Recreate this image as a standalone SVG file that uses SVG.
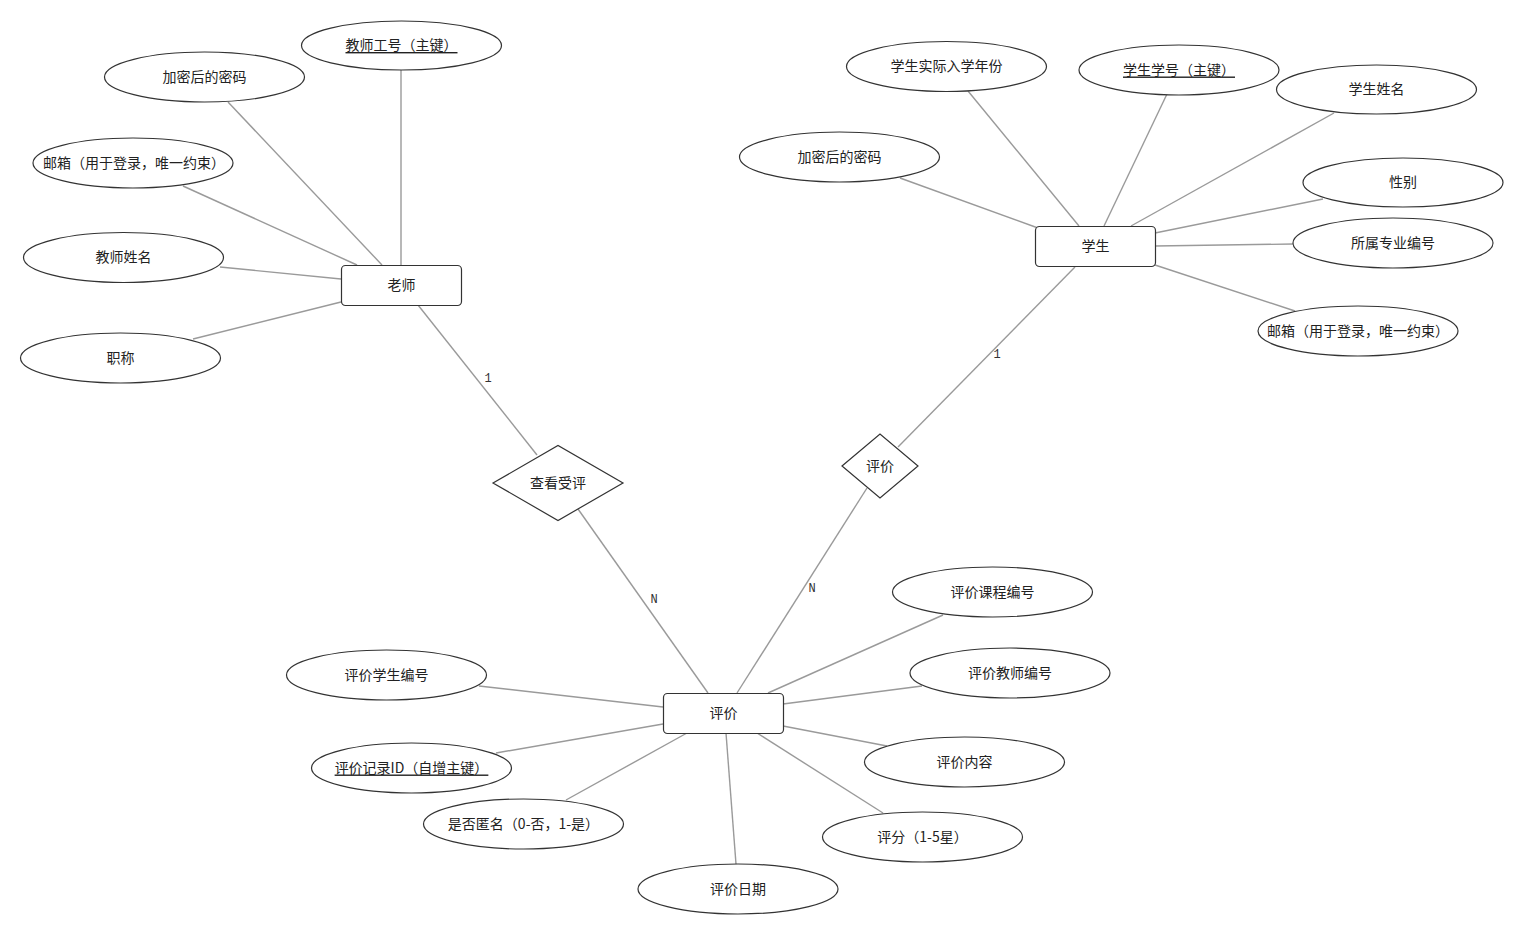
<svg xmlns="http://www.w3.org/2000/svg" width="1523" height="935" viewBox="0 0 1523 935">
<style>
.bg{fill:#ffffff}
.attr ellipse{fill:#ffffff;stroke:#333333;stroke-width:1.2}
.ent rect{fill:#ffffff;stroke:#333333;stroke-width:1.2}
.rel polygon{fill:#ffffff;stroke:#333333;stroke-width:1.2}
text{font-family:"Noto Sans CJK SC","Liberation Sans",sans-serif;font-size:14px;fill:#222222;text-anchor:middle;dominant-baseline:central;transform:translateY(-1.5px)}
text.key{text-decoration:underline}
.conn line{stroke:#9a9a9a;stroke-width:1.4}
text.card{font-family:"Liberation Mono","DejaVu Sans Mono",monospace;font-size:12px;fill:#333333}
</style>
<rect class="bg" x="0" y="0" width="1523" height="935"/>
<g id="connectors" class="conn">
  <line x1="401" y1="70" x2="401" y2="265"/>
  <line x1="228" y1="102" x2="382" y2="265"/>
  <line x1="183" y1="186" x2="357" y2="265"/>
  <line x1="220" y1="267" x2="341" y2="279"/>
  <line x1="193" y1="339" x2="341" y2="302"/>
  <line x1="418" y1="305" x2="537" y2="455"/>
  <line x1="578" y1="509" x2="708" y2="693"/>
  <line x1="968" y1="91" x2="1079" y2="226"/>
  <line x1="900" y1="178" x2="1038" y2="228"/>
  <line x1="1167" y1="94" x2="1104" y2="226"/>
  <line x1="1334" y1="113" x2="1131" y2="226"/>
  <line x1="1323" y1="199" x2="1155" y2="233"/>
  <line x1="1155" y1="246" x2="1293" y2="244"/>
  <line x1="1155" y1="265" x2="1295" y2="311"/>
  <line x1="1075" y1="267" x2="898" y2="447"/>
  <line x1="867" y1="488" x2="737" y2="693"/>
  <line x1="479" y1="686" x2="663" y2="707"/>
  <line x1="496" y1="753" x2="663" y2="724"/>
  <line x1="566" y1="800" x2="687" y2="733"/>
  <line x1="943" y1="615" x2="768" y2="693"/>
  <line x1="922" y1="686" x2="783" y2="704"/>
  <line x1="783" y1="726" x2="887" y2="746"/>
  <line x1="757" y1="733" x2="883" y2="813"/>
  <line x1="726" y1="733" x2="736" y2="864"/>
  <text class="card" x="488" y="380">1</text>
  <text class="card" x="997" y="356">1</text>
  <text class="card" x="654" y="601">N</text>
  <text class="card" x="812" y="590">N</text>
</g>
<g id="teacher" class="ent"><rect x="341.5" y="265.5" width="120" height="40" rx="4"/><text x="401.5" y="285.5">老师</text></g>
<g id="t_id" class="attr"><ellipse cx="401.5" cy="45.5" rx="100" ry="24.5"/><text class="key" x="401.5" y="45.5">教师工号（主键）</text></g>
<g id="t_pwd" class="attr"><ellipse cx="204.5" cy="77" rx="100" ry="25"/><text x="204.5" y="77">加密后的密码</text></g>
<g id="t_mail" class="attr"><ellipse cx="133" cy="163" rx="100" ry="25"/><text x="134" y="163">邮箱（用于登录，唯一约束）</text></g>
<g id="t_name" class="attr"><ellipse cx="123.5" cy="257.5" rx="100" ry="25"/><text x="123.5" y="257.5">教师姓名</text></g>
<g id="t_title" class="attr"><ellipse cx="120.5" cy="358" rx="100" ry="25"/><text x="120.5" y="358">职称</text></g>
<g id="rel_view" class="rel"><polygon points="493,483 558,445.5 623,483 558,520.5"/><text x="558" y="483">查看受评</text></g>
<g id="rel_eval" class="rel"><polygon points="842,466 880,434 918,466 880,498"/><text x="880" y="466">评价</text></g>
<g id="student" class="ent"><rect x="1035.5" y="226.5" width="120" height="40" rx="4"/><text x="1095.5" y="246.5">学生</text></g>
<g id="s_year" class="attr"><ellipse cx="946.5" cy="66.5" rx="100" ry="25"/><text x="946.5" y="66.5">学生实际入学年份</text></g>
<g id="s_pwd" class="attr"><ellipse cx="839.5" cy="157" rx="100" ry="25"/><text x="839.5" y="157">加密后的密码</text></g>
<g id="s_id" class="attr"><ellipse cx="1179" cy="70" rx="100" ry="25"/><text class="key" x="1179" y="70">学生学号（主键）</text></g>
<g id="s_name" class="attr"><ellipse cx="1376.5" cy="89.5" rx="100" ry="24.5"/><text x="1376.5" y="89.5">学生姓名</text></g>
<g id="s_gender" class="attr"><ellipse cx="1403" cy="182.5" rx="100" ry="24.5"/><text x="1403" y="182.5">性别</text></g>
<g id="s_major" class="attr"><ellipse cx="1393" cy="243" rx="100" ry="25"/><text x="1393" y="243">所属专业编号</text></g>
<g id="s_mail" class="attr"><ellipse cx="1358" cy="331" rx="100" ry="25"/><text x="1358" y="331">邮箱（用于登录，唯一约束）</text></g>
<g id="evaluation" class="ent"><rect x="663.5" y="693.5" width="120" height="40" rx="4"/><text x="723.5" y="713.5">评价</text></g>
<g id="e_student" class="attr"><ellipse cx="386.5" cy="675" rx="100" ry="25"/><text x="386.5" y="675">评价学生编号</text></g>
<g id="e_id" class="attr"><ellipse cx="411.5" cy="768" rx="100" ry="25"/><text class="key" x="411.5" y="768">评价记录ID（自增主键）</text></g>
<g id="e_anon" class="attr"><ellipse cx="523.5" cy="824" rx="100" ry="25"/><text x="523.5" y="824">是否匿名（0-否，1-是）</text></g>
<g id="e_date" class="attr"><ellipse cx="738" cy="889" rx="100" ry="25"/><text x="738" y="889">评价日期</text></g>
<g id="e_course" class="attr"><ellipse cx="992.5" cy="592" rx="100" ry="25"/><text x="992.5" y="592">评价课程编号</text></g>
<g id="e_teacher" class="attr"><ellipse cx="1010" cy="673" rx="100" ry="25"/><text x="1010" y="673">评价教师编号</text></g>
<g id="e_content" class="attr"><ellipse cx="964.5" cy="762" rx="100" ry="25"/><text x="964.5" y="762">评价内容</text></g>
<g id="e_score" class="attr"><ellipse cx="922.5" cy="837" rx="100" ry="25"/><text x="922.5" y="837">评分（1-5星）</text></g>
</svg>
